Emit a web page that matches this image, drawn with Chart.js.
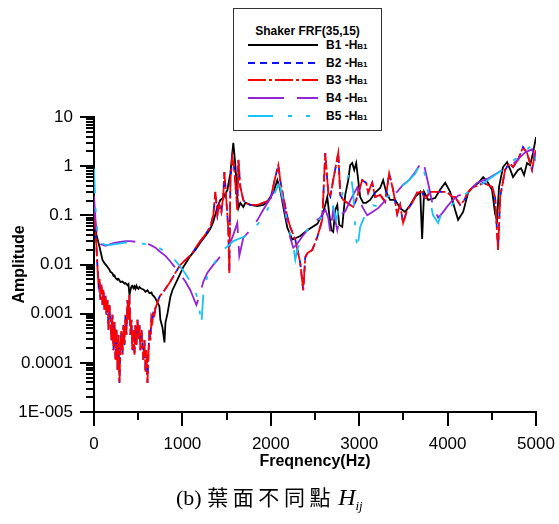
<!DOCTYPE html>
<html>
<head>
<meta charset="utf-8">
<title>Shaker FRF(35,15)</title>
<script src="https://cdn.jsdelivr.net/npm/chart.js@4.4.1/dist/chart.umd.min.js"></script>
<style>
  body { margin: 0; background: #fff; }
  #wrap { position: relative; width: 559px; height: 524px; overflow: hidden; }
  #myChart { position: absolute; left: 0; top: 0; }
  #legend {
    position: absolute; left: 233px; top: 8px; width: 147px; height: 121px;
    border: 1px solid #333; background: #fff;
    font-family: "Liberation Sans", Arial, sans-serif; font-weight: bold; color: #000;
  }
  #legend .ltitle { position: absolute; left: 0; width: 100%; top: 15px; text-align: center; font-size: 12px; line-height: 14px; }
  #legend .lrow { position: absolute; left: 14px; height: 14px; }
  #legend svg { position: absolute; left: 0; top: 4px; }
  #legend .ltext { position: absolute; left: 78px; top: 0; font-size: 12px; line-height: 14px; white-space: nowrap; }
  #legend .ltext small { font-size: 8px; }
  .caption {
    position: absolute; left: 176px; top: 483px; font-size: 22px; line-height: 26px; white-space: nowrap;
    font-family: "Liberation Serif", "Times New Roman", serif; color: #000;
  }
  .caption .cjk { font-family: "Noto Sans CJK TC", "Noto Sans CJK SC", sans-serif; font-size: 21px; letter-spacing: 4.6px; }
  .caption i { font-size: 24px; margin-left: 3px; }
  .caption sub { font-size: 13px; font-style: italic; }
</style>
</head>
<body>
<div id="wrap">
  <canvas id="myChart" width="559" height="524"></canvas>
  <div id="legend"><div class="ltitle">Shaker FRF(35,15)</div></div>
  <div class="caption">(b) <span class="cjk">葉面不同點</span><i>H</i><sub>ij</sub></div>
</div>
<script>
"use strict";

// tick values and labels
const xTickValues = [0, 1000, 2000, 3000, 4000, 5000];
const xTickLabels = ['0', '1000', '2000', '3000', '4000', '5000'];
const xMinorTicks = [500, 1500, 2500, 3500, 4500];
const yTickValues = [1e-5, 1e-4, 0.001, 0.01, 0.1, 1, 10];
const yTickLabels = ['1E-005', '0.0001', '0.001', '0.01', '0.1', '1', '10'];

const seriesNames = ['B1', 'B2', 'B3', 'B4', 'B5'];

// B1 (black)
const freqB1 = [0,28,62,96,120,141,153,175,186,209,220,232,243,266,277,299,322,345,356,379,390,401,412,424,435,446,458,469,480,492,503,514,537,559,582,605,627,650,661,684,718,740,751,774,797,808,831,864,887,944,977,1011,1057,1090,1147,1203,1260,1316,1350,1396,1429,1463,1509,1543,1576,1599,1621,1633,1655,1689,1712,1768,1848,1915,1960,2028,2074,2107,2141,2187,2243,2290,2333,2413,2526,2582,2616,2639,2662,2685,2706,2729,2752,2774,2808,2842,2876,2898,2921,2944,2966,2989,3011,3045,3079,3124,3181,3237,3271,3305,3350,3407,3463,3520,3577,3633,3690,3712,3734,3780,3859,3915,3973,4029,4085,4119,4176,4232,4289,4350,4402,4447,4503,4537,4559,4582,4627,4673,4710,4740,4797,4831,4865,4899,4933,4966,5000];
const ampB1 = [0.11,0.04,0.023,0.0124,0.0105,0.0095,0.0089,0.0078,0.0071,0.0066,0.0059,0.006,0.0053,0.0049,0.0051,0.0044,0.0045,0.0041,0.0042,0.0038,0.004,0.0024,0.003,0.0036,0.0037,0.0033,0.0036,0.0032,0.0037,0.0033,0.0032,0.0035,0.0032,0.0031,0.0028,0.003,0.0026,0.0027,0.0024,0.0022,0.0017,0.0014,0.00075,0.00053,0.00026,0.00065,0.001,0.0022,0.003,0.0049,0.0066,0.0089,0.012,0.015,0.0198,0.028,0.038,0.053,0.074,0.148,0.206,0.225,0.33,0.72,2.97,1.05,0.237,0.14,0.179,0.148,0.18,0.163,0.155,0.163,0.188,0.29,0.52,0.33,0.148,0.056,0.032,0.035,0.038,0.05,0.067,0.102,0.163,0.237,0.102,0.05,0.046,0.129,0.163,0.064,0.058,0.26,0.52,1.05,1.16,0.84,1.16,0.52,0.237,0.18,0.18,0.206,0.29,0.36,0.52,0.30,0.206,0.206,0.14,0.117,0.163,0.237,0.3,0.033,0.3,0.206,0.225,0.33,0.46,0.30,0.129,0.081,0.117,0.29,0.38,0.46,0.6,0.49,0.33,0.107,0.081,0.38,0.96,1.2,0.84,0.6,0.84,0.91,0.66,1.16,1.05,1.85,3.9];

// B2 (blue) and B3 (red) share the frequency points
const freqB3 = [0,17,28,40,51,62,73,85,96,107,119,130,141,153,164,175,186,198,209,220,232,243,254,266,277,288,299,311,322,333,345,356,367,379,390,401,412,424,435,446,458,469,480,492,503,514,525,537,548,559,571,582,593,605,616,627,638,650,661,672,684,695,718,740,797,853,887,921,977,1057,1113,1170,1237,1316,1350,1373,1396,1418,1441,1463,1475,1497,1520,1531,1543,1565,1588,1610,1621,1633,1655,1689,1712,1768,1848,1915,1994,2051,2085,2107,2141,2187,2220,2277,2333,2367,2390,2413,2469,2526,2582,2616,2650,2673,2706,2763,2786,2819,2865,2932,2966,3034,3079,3102,3147,3181,3237,3294,3339,3384,3430,3463,3497,3543,3600,3656,3712,3746,3800,3859,3950,3995,4052,4085,4142,4190,4232,4289,4360,4402,4503,4537,4571,4595,4650,4700,4740,4797,4853,4899,4955,4989,5000];
const ampB2 = [0.12,0.05,0.023,0.0085,0.0039,0.0053,0.0019,0.0039,0.0015,0.0031,0.0012,0.0024,0.00095,0.0019,0.00047,0.0015,0.00075,0.00029,0.00095,0.00018,0.00068,0.000115,0.00047,0.000072,0.00037,0.000039,0.00023,0.00047,0.000146,0.00059,0.00023,0.00095,0.00037,0.0019,0.00075,0.0024,0.00037,0.00075,0.00018,0.00047,0.000146,0.00059,0.00023,0.00075,0.00029,0.00059,0.00018,0.00047,0.00023,0.000115,0.00029,0.000066,0.00018,0.000039,0.000146,0.00047,0.00029,0.00082,0.00068,0.0011,0.00095,0.0013,0.0017,0.0022,0.003,0.0042,0.0053,0.0068,0.0098,0.0135,0.017,0.025,0.036,0.058,0.102,0.30,0.102,0.163,0.117,0.26,0.76,0.206,0.05,0.0067,0.52,1.53,0.84,0.237,0.129,1.34,0.38,0.206,0.18,0.163,0.163,0.18,0.206,0.6,1.05,0.52,0.237,0.093,0.058,0.032,0.0108,0.003,0.014,0.017,0.0198,0.036,0.081,1.85,0.29,0.24,0.52,1.85,0.26,0.206,0.18,0.148,0.206,0.52,0.46,0.29,0.46,0.237,0.26,0.19,0.72,0.33,0.107,0.163,0.07,0.129,0.18,0.29,0.3,0.206,0.3,0.3,0.3,0.3,0.237,0.237,0.163,0.206,0.3,0.38,0.41,0.46,0.38,0.237,0.0198,0.237,0.84,1.16,0.96,1.34,2.45,1.85,0.84,1.85,2.1];
const ampB3 = [0.12,0.05,0.023,0.0085,0.0039,0.0053,0.0019,0.0039,0.0015,0.0031,0.0012,0.0024,0.00095,0.0019,0.00047,0.0015,0.00075,0.00029,0.00095,0.00018,0.00068,0.000115,0.00047,0.000072,0.00037,0.000039,0.00023,0.00047,0.000146,0.00059,0.00023,0.00095,0.00037,0.0019,0.00075,0.0024,0.00037,0.00075,0.00018,0.00047,0.000146,0.00059,0.00023,0.00075,0.00029,0.00059,0.00018,0.00047,0.00023,0.000115,0.00029,0.000066,0.00018,0.000039,0.000146,0.00047,0.00029,0.00082,0.00068,0.0011,0.00095,0.0013,0.0017,0.0022,0.003,0.0042,0.0053,0.0068,0.0098,0.0135,0.017,0.025,0.036,0.058,0.102,0.30,0.102,0.163,0.117,0.26,0.76,0.206,0.05,0.0067,0.52,1.53,0.84,0.237,0.129,1.34,0.38,0.206,0.18,0.163,0.163,0.18,0.206,0.6,1.05,0.52,0.237,0.093,0.058,0.032,0.0108,0.003,0.014,0.017,0.0198,0.036,0.081,1.85,0.29,0.24,0.52,1.85,0.26,0.206,0.18,0.148,0.206,0.52,0.46,0.29,0.46,0.237,0.26,0.19,0.72,0.33,0.107,0.163,0.07,0.129,0.18,0.29,0.3,0.206,0.3,0.3,0.3,0.3,0.237,0.237,0.163,0.206,0.3,0.38,0.41,0.46,0.38,0.237,0.0198,0.237,0.84,1.16,0.96,1.34,2.45,1.85,0.84,1.85,2.1];

// B4 (purple)
const freqB4 = [0,17,40,73,130,186,243,299,356,412,469,525,582,638,695,751,808,864,921,977,1034,1090,1158,1190,1237,1283,1350,1407,1463,1520,1576,1621,1644,1689,1768,1848,1915,1994,2051,2085,2107,2187,2220,2254,2290,2356,2413,2480,2560,2616,2650,2673,2706,2752,2786,2842,2898,2978,3034,3091,3158,3215,3294,3350,3430,3497,3554,3633,3690,3723,3780,3836,3893,3938,3995,4052,4119,4176,4232,4334,4447,4559,4650,4740,4876,4955,5000];
const ampB4 = [0.25,0.08,0.035,0.026,0.024,0.026,0.028,0.029,0.03,0.03,0.029,0.028,0.027,0.025,0.022,0.018,0.015,0.0115,0.0085,0.0063,0.0045,0.003,0.0015,0.0022,0.0045,0.0068,0.0098,0.013,0.018,0.022,0.04,0.07,0.015,0.035,0.05,0.08,0.13,0.22,0.37,0.45,0.35,0.07,0.035,0.022,0.025,0.037,0.05,0.07,0.09,0.13,0.09,0.045,0.13,0.05,0.1,0.12,0.2,0.37,0.15,0.1,0.12,0.14,0.2,0.25,0.3,0.42,0.5,0.75,1.1,1.3,0.45,0.15,0.09,0.11,0.15,0.2,0.25,0.27,0.3,0.46,0.55,0.72,0.9,1.1,1.9,2.2,1.3];

// B5 (cyan)
const freqB5 = [0,17,40,73,130,186,243,299,356,412,469,525,582,638,695,751,808,864,921,977,1034,1090,1147,1181,1215,1237,1283,1350,1407,1463,1520,1576,1633,1689,1768,1848,1915,1994,2051,2085,2107,2141,2187,2254,2277,2300,2356,2413,2480,2560,2616,2673,2706,2740,2819,2898,2932,2955,2978,3011,3091,3158,3215,3300,3380,3450,3554,3633,3690,3723,3780,3836,3893,3938,3995,4119,4176,4289,4402,4503,4627,4740,4819,4955,5000];
const ampB5 = [0.9,0.15,0.04,0.028,0.025,0.025,0.026,0.027,0.028,0.028,0.028,0.027,0.026,0.025,0.023,0.021,0.018,0.015,0.012,0.009,0.0065,0.0045,0.0028,0.0018,0.0006,0.0025,0.006,0.01,0.014,0.02,0.024,0.03,0.033,0.036,0.045,0.065,0.09,0.17,0.3,0.42,0.38,0.2,0.07,0.025,0.0124,0.02,0.035,0.05,0.07,0.085,0.12,0.13,0.15,0.08,0.33,0.8,0.3,0.06,0.02,0.058,0.13,0.16,0.15,0.22,0.3,0.35,0.5,0.7,1.15,1.0,0.3,0.1,0.07,0.12,0.13,0.22,0.25,0.35,0.45,0.6,0.85,1.3,1.6,2.7,1.3];

const seriesFreq = [freqB1, freqB3, freqB3, freqB4, freqB5];
const seriesAmp = [ampB1, ampB2, ampB3, ampB4, ampB5];
const seriesColors = ['#000000', '#1010ff', '#ff0000', '#9424d8', '#17c2f5'];
const seriesDash = [[], [7, 5], [18, 3, 3, 3], [36, 13], [25, 15, 4, 14, 4, 15]];

function toPoints(freq, amp) {
    return freq.map((f, i) => ({ x: f, y: amp[i] }));
}

const datasets = seriesNames.map((name, i) => ({
    label: name + ' -HB1',
    data: toPoints(seriesFreq[i], seriesAmp[i]),
    borderColor: seriesColors[i],
    borderDash: seriesDash[i],
    borderWidth: 1.8,
    pointRadius: 0,
    tension: 0,
    fill: false,
    order: seriesNames.length - i
}));

// legend box (html)
const legendBox = document.getElementById('legend');
seriesNames.forEach((name, i) => {
    const row = document.createElement('div');
    row.className = 'lrow';
    row.style.top = (29 + i * 17.7) + 'px';
    const dash = seriesDash[i].join(' ');
    row.innerHTML = '<svg width="70" height="6"><line x1="0" y1="3" x2="70" y2="3" stroke="' + seriesColors[i] +
        '" stroke-width="1.8"' + (dash ? ' stroke-dasharray="' + dash + '"' : '') + '/></svg>' +
        '<span class="ltext">' + name + ' -H<small>B1</small></span>';
    legendBox.appendChild(row);
});

// major / minor tick marks drawn outside the axes
const tickMarks = {
    id: 'tickMarks',
    afterDraw(chart) {
        const { ctx, chartArea, scales: { x, y } } = chart;
        ctx.save();
        ctx.strokeStyle = '#000';
        ctx.lineWidth = 2;
        ctx.beginPath();
        yTickValues.forEach(v => {
            const py = Math.round(y.getPixelForValue(v));
            ctx.moveTo(chartArea.left - 14, py);
            ctx.lineTo(chartArea.left, py);
            if (v < 10) {
                for (let m = 2; m <= 9; m++) {
                    const pm = Math.round(y.getPixelForValue(v * m));
                    ctx.moveTo(chartArea.left - 8, pm);
                    ctx.lineTo(chartArea.left, pm);
                }
            }
        });
        xTickValues.forEach(v => {
            const px = Math.round(x.getPixelForValue(v));
            ctx.moveTo(px, chartArea.bottom);
            ctx.lineTo(px, chartArea.bottom + 14);
        });
        xMinorTicks.forEach(v => {
            const px = Math.round(x.getPixelForValue(v));
            ctx.moveTo(px, chartArea.bottom);
            ctx.lineTo(px, chartArea.bottom + 8);
        });
        ctx.stroke();
        ctx.restore();
    }
};

Chart.defaults.font.family = "'Liberation Sans', Arial, sans-serif";
Chart.defaults.color = '#000';

new Chart(document.getElementById('myChart'), {
    type: 'line',
    data: { datasets: datasets },
    options: {
        responsive: false,
        animation: false,
        layout: { padding: { left: 0, top: 117, right: 23, bottom: 0 } },
        plugins: {
            legend: { display: false },
            tooltip: { enabled: false }
        },
        scales: {
            x: {
                type: 'linear',
                min: 0,
                max: 5000,
                afterBuildTicks: scale => { scale.ticks = xTickValues.map(v => ({ value: v })); },
                afterFit: scale => {
                    scale.height = 112;
                    scale.paddingLeft = 0;
                    scale.paddingRight = 0;
                },
                grid: { display: false, drawTicks: false },
                border: { display: true, color: '#000', width: 2 },
                ticks: {
                    padding: 22,
                    maxRotation: 0,
                    autoSkip: false,
                    font: { size: 17 },
                    callback: (v, i) => xTickLabels[i]
                },
                title: {
                    display: true,
                    text: 'Freqnency(Hz)',
                    font: { size: 16, weight: 'bold' },
                    padding: { top: 0, bottom: 53 }
                }
            },
            y: {
                type: 'logarithmic',
                min: 1e-5,
                max: 10,
                afterBuildTicks: scale => { scale.ticks = yTickValues.map(v => ({ value: v })); },
                afterFit: scale => {
                    scale.width = 94;
                    scale.paddingTop = 0;
                    scale.paddingBottom = 0;
                },
                grid: { display: false, drawTicks: false },
                border: { display: true, color: '#000', width: 2 },
                ticks: {
                    padding: 21,
                    autoSkip: false,
                    font: { size: 17 },
                    callback: (v, i) => yTickLabels[i]
                },
                title: {
                    display: true,
                    text: 'Amplitude',
                    font: { size: 16, weight: 'bold' },
                    padding: { top: 10, bottom: 0 }
                }
            }
        }
    },
    plugins: [tickMarks]
});
</script>
</body>
</html>
